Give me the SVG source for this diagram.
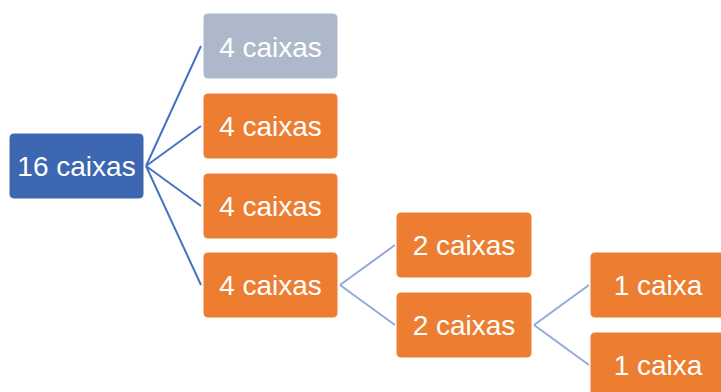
<svg xmlns="http://www.w3.org/2000/svg" width="721" height="392" viewBox="0 0 721 392">
<style>
rect{stroke:#fff;stroke-width:1}
.root{fill:#3E67B1}
.grey{fill:#ADB9CA}
.org{fill:#ED7D31}
text{font-family:"Liberation Sans",Arial,sans-serif;font-size:28px;fill:#fff;text-anchor:middle}
.l1{stroke:#4472C4;stroke-width:2;fill:none}
.l2{stroke:#8FAADC;stroke-width:2;fill:none}
</style>
<rect width="721" height="392" fill="#fff" stroke="none"/>
<g id="connectors">
<path class="l1" d="M146 166 L201 46 M146 166 L201 126 M146 166 L201 206 M146 166 L201 285"/>
<path class="l2" d="M340 285 L395 245 M340 285 L395 325"/>
<path class="l2" d="M534 325 L589 285 M534 325 L589 365"/>
</g>
<g id="n16"><rect class="root" x="9" y="133" width="135" height="66" rx="5"/><text x="76.5" y="176">16 caixas</text></g>
<g id="n4a"><rect class="grey" x="203" y="13" width="135" height="66" rx="5"/><text x="270.5" y="57">4 caixas</text></g>
<g id="n4b"><rect class="org" x="203" y="93" width="135" height="66" rx="5"/><text x="270.5" y="136">4 caixas</text></g>
<g id="n4c"><rect class="org" x="203" y="173" width="135" height="66" rx="5"/><text x="270.5" y="216">4 caixas</text></g>
<g id="n4d"><rect class="org" x="203" y="252" width="135" height="66" rx="5"/><text x="270.5" y="295">4 caixas</text></g>
<g id="n2a"><rect class="org" x="396" y="212" width="136" height="66" rx="5"/><text x="464" y="255">2 caixas</text></g>
<g id="n2b"><rect class="org" x="396" y="292" width="136" height="66" rx="5"/><text x="464" y="335">2 caixas</text></g>
<g id="n1a"><rect class="org" x="590" y="252" width="136" height="66" rx="5"/><text x="658" y="295">1 caixa</text></g>
<g id="n1b"><rect class="org" x="590" y="332" width="136" height="66" rx="5"/><text x="658" y="375">1 caixa</text></g>
</svg>
